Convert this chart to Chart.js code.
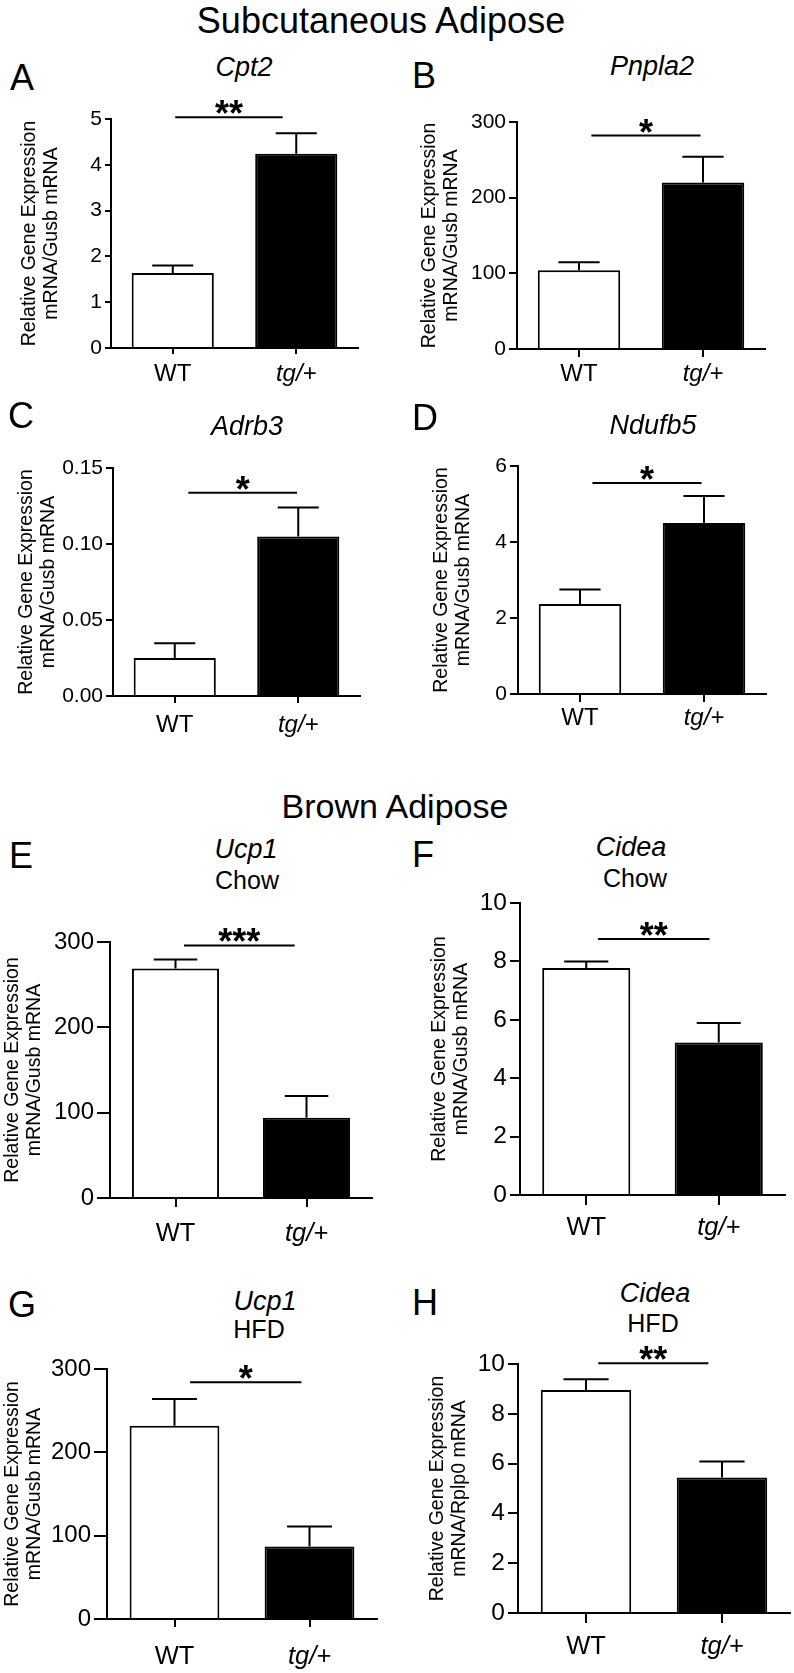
<!DOCTYPE html>
<html>
<head>
<meta charset="utf-8">
<script src="https://cdn.jsdelivr.net/npm/chart.js@4.4.1/dist/chart.umd.min.js"></script>
<style>
  html, body { margin: 0; padding: 0; background: #fff; }
  #page { position: relative; width: 794px; height: 1673px; overflow: hidden;
          font-family: "Liberation Sans", Arial, sans-serif; color: #000; }
  #page canvas { position: absolute; }
  .txt { position: absolute; white-space: nowrap; line-height: 1; }
</style>
</head>
<body>
<div id="page"></div>
<script>
// groups on the x axis
const groups = ['WT', 'tg/+'];

// mean and SEM per gene
const cpt2Mean = [1.64, 4.24];
const cpt2Sem = [0.16, 0.45];
const pnpla2Mean = [104, 220];
const pnpla2Sem = [10.5, 34];
const adrb3Mean = [0.025, 0.105];
const adrb3Sem = [0.0097, 0.019];
const ndufb5Mean = [2.37, 4.50];
const ndufb5Sem = [0.38, 0.71];
const ucp1ChowMean = [269, 94];
const ucp1ChowSem = [10.5, 25.6];
const cideaChowMean = [7.77, 5.22];
const cideaChowSem = [0.23, 0.67];
const ucp1HfdMean = [232, 87];
const ucp1HfdSem = [32, 24];
const cideaHfdMean = [8.96, 5.44];
const cideaHfdSem = [0.43, 0.64];

// y tick labels
const ticksCpt2 = ['0', '1', '2', '3', '4', '5'];
const ticksPnpla2 = ['0', '100', '200', '300'];
const ticksAdrb3 = ['0.00', '0.05', '0.10', '0.15'];
const ticksNdufb5 = ['0', '2', '4', '6'];
const ticksUcp1 = ['0', '100', '200', '300'];
const ticksCidea = ['0', '2', '4', '6', '8', '10'];

// significance bars
const sigLevel = [5.04, 282, 0.1337, 5.55, 296, 8.77, 284, 10.03];
const sigStars = ['**', '*', '*', '*', '***', '**', '*', '**'];

const yTitleGusb = ['Relative Gene Expression', 'mRNA/Gusb mRNA'];
const yTitleRplp0 = ['Relative Gene Expression', 'mRNA/Rplp0 mRNA'];

const FONT = '"Liberation Sans", Arial, sans-serif';
Chart.defaults.font.family = FONT;
Chart.defaults.color = '#000';

const page = document.getElementById('page');

function addText(str, x, baseline, size, opts = {}) {
  const d = document.createElement('div');
  d.className = 'txt';
  d.textContent = str;
  d.style.fontSize = size + 'px';
  d.style.left = x + 'px';
  d.style.top = (baseline - 0.8465 * size) + 'px';
  if (opts.italic) d.style.fontStyle = 'italic';
  if (opts.center) d.style.transform = 'translateX(-50%)';
  page.appendChild(d);
}

const errorBars = {
  id: 'errorBars',
  afterDatasetsDraw(chart, args, o) {
    const { ctx } = chart;
    const y = chart.scales.y;
    const vals = chart.data.datasets[0].data;
    ctx.save();
    ctx.strokeStyle = '#000';
    ctx.lineWidth = 2;
    chart.getDatasetMeta(0).data.forEach((bar, i) => {
      const top = y.getPixelForValue(vals[i] + o.sem[i]);
      const half = bar.width / 4;
      ctx.beginPath();
      ctx.moveTo(bar.x, bar.y);
      ctx.lineTo(bar.x, top);
      ctx.moveTo(bar.x - half, top);
      ctx.lineTo(bar.x + half, top);
      ctx.stroke();
    });
    ctx.restore();
  }
};

const sigBar = {
  id: 'sigBar',
  afterDatasetsDraw(chart, args, o) {
    const { ctx } = chart;
    const py = chart.scales.y.getPixelForValue(o.level);
    const xa = chart.scales.x.getPixelForValue(o.from);
    const xb = chart.scales.x.getPixelForValue(o.to);
    ctx.save();
    ctx.strokeStyle = '#000';
    ctx.lineWidth = 2;
    ctx.beginPath();
    ctx.moveTo(xa, py);
    ctx.lineTo(xb, py);
    ctx.stroke();
    ctx.fillStyle = '#000';
    ctx.font = 'bold 36px ' + FONT;
    ctx.textAlign = 'center';
    ctx.textBaseline = 'alphabetic';
    ctx.fillText(o.stars, (xa + xb) / 2, py + 9);
    ctx.restore();
  }
};

// layout of each panel (pixel boxes of the plot areas)
const panels = [
  { letter: 'A', lx: 10, lb: 90, gene: 'Cpt2', gx: 244, gb: 77, mean: cpt2Mean, sem: cpt2Sem, ticks: ticksCpt2,
    yTitle: yTitleGusb, x0: 111, x1: 358, yTop: 119, yZero: 348, titleX: 30, yTick: 6, xTick: 6, xPad: 5.6, tf: 21, xf: 24, from: 0.02, to: 0.89 },
  { letter: 'B', lx: 412, lb: 88, gene: 'Pnpla2', gx: 652, gb: 76, mean: pnpla2Mean, sem: pnpla2Sem, ticks: ticksPnpla2,
    yTitle: yTitleGusb, x0: 517, x1: 765, yTop: 122, yZero: 349, titleX: 430, yTick: 8, xTick: 8, xPad: 2.6, tf: 21, xf: 24, from: 0.10, to: 0.98 },
  { letter: 'C', lx: 8, lb: 428, gene: 'Adrb3', gx: 247, gb: 436, mean: adrb3Mean, sem: adrb3Sem, ticks: ticksAdrb3,
    yTitle: yTitleGusb, x0: 113, x1: 360, yTop: 468, yZero: 696, titleX: 27, yTick: 7, xTick: 7, xPad: 7.6, tf: 21, xf: 24, from: 0.11, to: 0.99 },
  { letter: 'D', lx: 412, lb: 430, gene: 'Ndufb5', gx: 653, gb: 435, mean: ndufb5Mean, sem: ndufb5Sem, ticks: ticksNdufb5,
    yTitle: yTitleGusb, x0: 518, x1: 766, yTop: 466, yZero: 694, titleX: 442, yTick: 8, xTick: 8, xPad: 1.6, tf: 21, xf: 24, from: 0.10, to: 0.98 },
  { letter: 'E', lx: 9, lb: 868, gene: 'Ucp1', gx: 246, gb: 859, diet: 'Chow', dx: 247, db: 889, mean: ucp1ChowMean, sem: ucp1ChowSem, ticks: ticksUcp1,
    yTitle: yTitleGusb, x0: 110, x1: 372, yTop: 942, yZero: 1198, titleX: 13, yTick: 13, xTick: 9, xPad: 11.7, tf: 24, xf: 25.5, from: 0.065, to: 0.91 },
  { letter: 'F', lx: 412, lb: 867, gene: 'Cidea', gx: 631, gb: 857, diet: 'Chow', dx: 635, db: 887, mean: cideaChowMean, sem: cideaChowSem, ticks: ticksCidea,
    yTitle: yTitleGusb, x0: 520, x1: 785, yTop: 903, yZero: 1195, titleX: 440, yTick: 10, xTick: 10, xPad: 7.7, tf: 24.5, xf: 25.5, from: 0.09, to: 0.93 },
  { letter: 'G', lx: 8, lb: 1317, gene: 'Ucp1', gx: 265, gb: 1311, diet: 'HFD', dx: 259, db: 1338, mean: ucp1HfdMean, sem: ucp1HfdSem, ticks: ticksUcp1,
    yTitle: yTitleGusb, x0: 107, x1: 377, yTop: 1369, yZero: 1619, titleX: 13, yTick: 13, xTick: 8, xPad: 14.7, tf: 24, xf: 25.5, from: 0.115, to: 0.94 },
  { letter: 'H', lx: 412, lb: 1315, gene: 'Cidea', gx: 655, gb: 1303, diet: 'HFD', dx: 653, db: 1332, mean: cideaHfdMean, sem: cideaHfdSem, ticks: ticksCidea,
    yTitle: yTitleRplp0, x0: 518, x1: 790, yTop: 1364, yZero: 1613, titleX: 438, yTick: 10, xTick: 10, xPad: 8.7, tf: 24.5, xf: 25.5, from: 0.09, to: 0.90 }
];

addText('Subcutaneous Adipose', 381, 33, 36, { center: true });
addText('Brown Adipose', 395, 818, 34, { center: true });

const PAD_TOP = 40, X_AXIS_H = 64, PAD_BOTTOM = 5, PAD_RIGHT = 10;

panels.forEach((p, k) => {
  addText(p.letter, p.lx, p.lb, 36);
  addText(p.gene, p.gx, p.gb, 27, { center: true, italic: true });
  if (p.diet) addText(p.diet, p.dx, p.db, 25, { center: true });

  const left = p.titleX - 13;
  const yAxisW = p.x0 - left;
  const canvas = document.createElement('canvas');
  const w = yAxisW + (p.x1 - p.x0) + PAD_RIGHT;
  const h = PAD_TOP + (p.yZero - p.yTop) + X_AXIS_H + PAD_BOTTOM;
  canvas.width = w;
  canvas.height = h;
  canvas.style.left = left + 'px';
  canvas.style.top = (p.yTop - PAD_TOP) + 'px';
  canvas.style.width = w + 'px';
  canvas.style.height = h + 'px';
  page.appendChild(canvas);

  const tickVals = p.ticks.map(Number);

  new Chart(canvas.getContext('2d'), {
    type: 'bar',
    data: {
      labels: groups,
      datasets: [{
        data: p.mean,
        backgroundColor: ['#ffffff', '#000000'],
        borderColor: '#000000',
        borderWidth: 2,
        categoryPercentage: 1,
        barPercentage: 0.665
      }]
    },
    options: {
      responsive: false,
      animation: false,
      layout: { padding: { top: PAD_TOP, right: PAD_RIGHT, bottom: PAD_BOTTOM, left: 0 } },
      plugins: {
        legend: { display: false },
        tooltip: { enabled: false },
        errorBars: { sem: p.sem },
        sigBar: { level: sigLevel[k], stars: sigStars[k], from: p.from, to: p.to }
      },
      scales: {
        x: {
          offset: true,
          grid: { display: true, drawOnChartArea: false, drawTicks: true, offset: false,
                  tickLength: p.xTick, color: '#000', lineWidth: 2 },
          border: { display: true, color: '#000', width: 2 },
          ticks: {
            padding: p.xPad,
            color: '#000',
            font: (ctx) => ({ family: FONT, size: p.xf, style: ctx.index === 1 ? 'italic' : 'normal' })
          },
          afterFit: (s) => { s.height = X_AXIS_H; }
        },
        y: {
          min: tickVals[0],
          max: tickVals[tickVals.length - 1],
          grid: { display: true, drawOnChartArea: false, drawTicks: true,
                  tickLength: p.yTick, color: '#000', lineWidth: 2 },
          border: { display: true, color: '#000', width: 2 },
          afterBuildTicks: (s) => { s.ticks = tickVals.map(v => ({ value: v })); },
          ticks: {
            padding: 3,
            color: '#000',
            font: { family: FONT, size: p.tf },
            callback: (v, i) => p.ticks[i]
          },
          title: {
            display: true,
            text: p.yTitle,
            color: '#000',
            font: { family: FONT, size: 19.5, lineHeight: 22 / 19.5 },
            padding: { top: 2, bottom: 0 }
          },
          afterFit: (s) => { s.width = yAxisW; }
        }
      }
    },
    plugins: [errorBars, sigBar]
  });
});
</script>
</body>
</html>
